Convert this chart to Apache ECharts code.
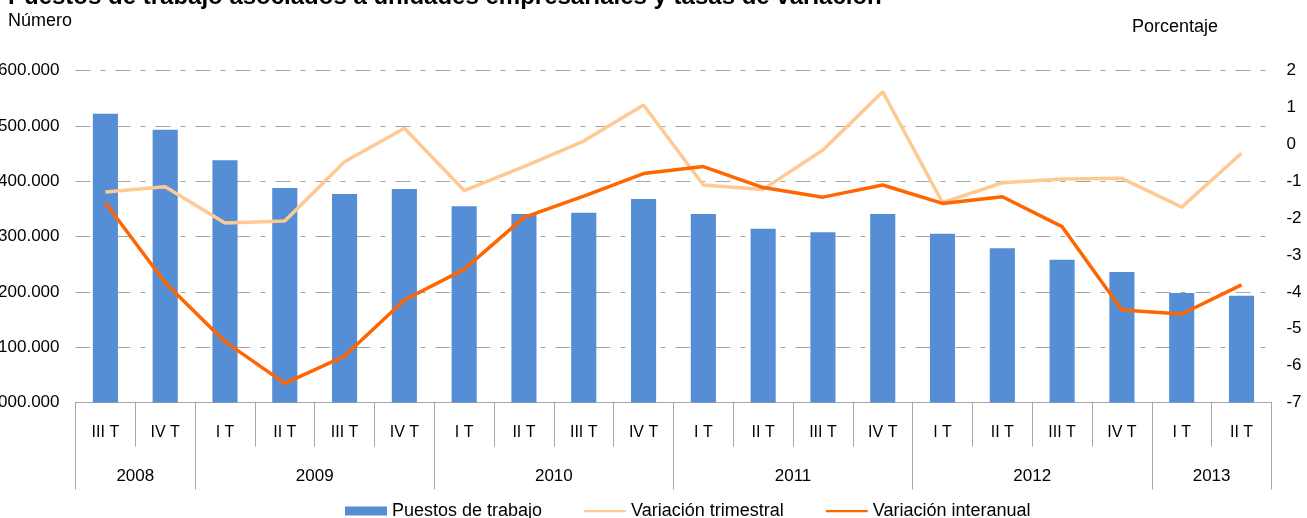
<!DOCTYPE html>
<html>
<head>
<meta charset="utf-8">
<script src="https://cdn.jsdelivr.net/npm/echarts@6/dist/echarts.min.js"></script>
<style>
  html, body { margin: 0; padding: 0; background: #fff; }
  #chart { width: 1307px; height: 518px; }
</style>
</head>
<body>
<div id="chart"></div>
<script>
var quarters = ['III T', 'IV T', 'I T', 'II T', 'III T', 'IV T', 'I T', 'II T', 'III T', 'IV T',
                'I T', 'II T', 'III T', 'IV T', 'I T', 'II T', 'III T', 'IV T', 'I T', 'II T'];
var years = ['2008', '2009', '2010', '2011', '2012', '2013'];
var quartersPerYear = [2, 4, 4, 4, 4, 2];

var puestos = [2522000, 2493000, 2438000, 2388000, 2377000, 2386000, 2355000, 2341000, 2343000, 2368000,
               2341000, 2314000, 2308000, 2341000, 2305000, 2279000, 2258000, 2236000, 2198000, 2193000];
var varTrimestral = [-1.29, -1.15, -2.13, -2.08, -0.47, 0.44, -1.25, -0.60, 0.09, 1.07,
                     -1.10, -1.22, -0.15, 1.43, -1.58, -1.04, -0.94, -0.92, -1.70, -0.24];
var varInteranual = [-1.58, -3.75, -5.35, -6.48, -5.74, -4.22, -3.39, -1.98, -1.40, -0.79,
                     -0.60, -1.17, -1.43, -1.10, -1.60, -1.42, -2.23, -4.49, -4.60, -3.81];

// limites y centros de cada año sobre una escala 0..20
var yearTicks = [0], yearCenters = [];
var acc = 0;
quartersPerYear.forEach(function (n) {
    yearCenters.push(acc + n / 2);
    acc += n;
    yearTicks.push(acc);
});

function miles(v) {
    return String(v).replace(/\B(?=(\d{3})+(?!\d))/g, '.');
}

var font = 'Liberation Sans';
var gridDash = [15, 10, 5, 10];
// linea fina para la leyenda (los puntos extremos fijan la caja de 42x9)
var lineIcon = 'path://M0,0h0.01v0.01h-0.01z M0,3.4h42v2.4h-42z M0,9h0.01v0.01h-0.01z';

var myChart = echarts.init(document.getElementById('chart'));

var option = {
    backgroundColor: '#fff',
    animation: false,
    textStyle: { fontFamily: font },
    title: {
        text: 'Puestos de trabajo asociados a unidades empresariales y tasas de variación',
        left: 8,
        top: -15,
        padding: 0,
        textStyle: { fontFamily: font, fontSize: 24, fontWeight: 'bold', color: '#000' }
    },
    graphic: [
        { type: 'text', left: 8, top: 12, style: { text: 'Número', font: '18px ' + font, fill: '#000' } },
        { type: 'text', left: 1132, top: 18, style: { text: 'Porcentaje', font: '18px ' + font, fill: '#000' } }
    ],
    legend: {
        left: 340,
        top: 497,
        itemWidth: 42,
        itemHeight: 9,
        itemGap: 42,
        textStyle: { fontFamily: font, fontSize: 18, color: '#000' },
        data: [
            { name: 'Puestos de trabajo', icon: 'rect' },
            { name: 'Variación trimestral', icon: lineIcon },
            { name: 'Variación interanual', icon: lineIcon }
        ]
    },
    grid: { left: 75.5, right: 35.6, top: 70.7, bottom: 115.5, outerBoundsMode: 'none', containLabel: false },
    xAxis: [
        {
            type: 'category',
            data: quarters,
            axisLine: { onZero: false, lineStyle: { color: '#A6A6A6', width: 1 } },
            axisTick: { show: true, interval: 0, length: 44, lineStyle: { color: '#A6A6A6' } },
            axisLabel: { interval: 0, margin: 22, fontSize: 16, color: '#000', fontFamily: font }
        },
        {
            type: 'value',
            min: 0,
            max: quarters.length,
            position: 'bottom',
            axisLine: { show: false, onZero: false },
            splitLine: { show: false },
            axisTick: { show: true, length: 87, customValues: yearTicks, lineStyle: { color: '#A6A6A6' } },
            axisLabel: {
                customValues: yearCenters,
                margin: 65,
                fontSize: 17,
                color: '#000',
                fontFamily: font,
                formatter: function (v) {
                    return years[yearCenters.indexOf(v)];
                }
            }
        }
    ],
    yAxis: [
        {
            type: 'value',
            min: 2000000,
            max: 2600000,
            interval: 100000,
            axisLine: { show: false },
            axisTick: { show: false },
            axisLabel: { margin: 16, fontSize: 17, color: '#000', fontFamily: font, formatter: miles },
            splitLine: { lineStyle: { color: '#A6A6A6', width: 1, type: gridDash } }
        },
        {
            type: 'value',
            min: -7,
            max: 2,
            interval: 1,
            axisLine: { show: false },
            axisTick: { show: false },
            splitLine: { show: false },
            axisLabel: { margin: 15, fontSize: 17, color: '#000', fontFamily: font }
        }
    ],
    series: [
        {
            name: 'Puestos de trabajo',
            type: 'bar',
            data: puestos,
            barWidth: '42%',
            itemStyle: { color: '#558ED5' }
        },
        {
            name: 'Variación trimestral',
            type: 'line',
            yAxisIndex: 1,
            data: varTrimestral,
            symbol: 'none',
            lineStyle: { color: '#FFC993', width: 3.5 },
            itemStyle: { color: '#FFC993' }
        },
        {
            name: 'Variación interanual',
            type: 'line',
            yAxisIndex: 1,
            data: varInteranual,
            symbol: 'none',
            lineStyle: { color: '#FF6600', width: 3.5 },
            itemStyle: { color: '#FF6600' }
        }
    ]
};

myChart.setOption(option);
</script>
</body>
</html>
